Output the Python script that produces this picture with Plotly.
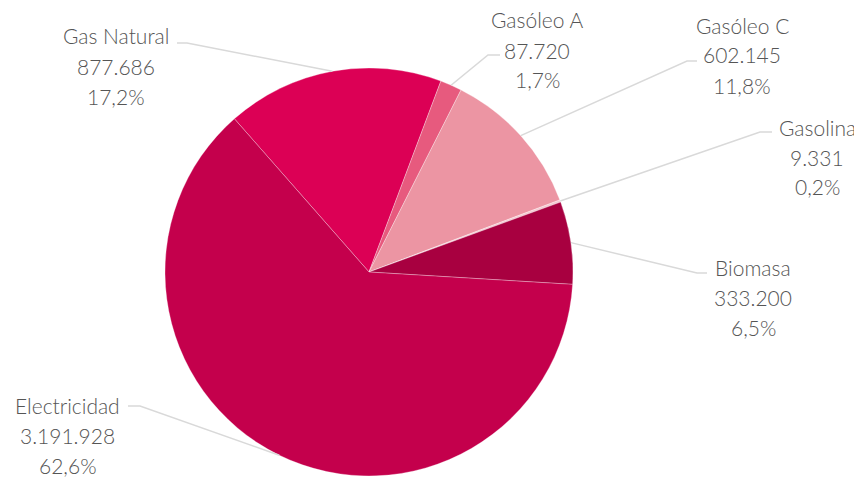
import math
import plotly.graph_objects as go

labels = ["Gas Natural", "Gasóleo A", "Gasóleo C", "Gasolina", "Biomasa", "Electricidad"]
values = [877686, 87720, 602145, 9331, 333200, 3191928]
value_text = ["877.686", "87.720", "602.145", "9.331", "333.200", "3.191.928"]
pct_text = ["17,2%", "1,7%", "11,8%", "0,2%", "6,5%", "62,6%"]
colors = ["#DC0055", "#E75A7E", "#EC95A3", "#F4C9D1", "#A80040", "#C4004C"]

# page body has an 8px margin, so the figure is drawn 8px in from the window corner
OFF = 8
W, H = 862 - OFF, 477 - OFF
CX, CY, R = 369 - OFF, 272 - OFF, 204
ROT = -41.3

# label layout in window pixels: text centre x, first line y, leader start, leader elbow
label_pos = {
    "Gas Natural": (116, 36, (177, 43), (187, 43)),
    "Gasóleo A": (537, 20, (500, 55), (488, 55)),
    "Gasóleo C": (742, 25, (697, 61), (687, 61)),
    "Gasolina": (817, 127, (772, 132), (760, 132)),
    "Biomasa": (753, 267, (707, 273), (697, 273)),
    "Electricidad": (68, 405, (128, 406), (140, 406)),
}
LINE_GAP = 30


def px(x):
    return x / W


def py(y):
    return 1 - y / H


fig = go.Figure(go.Pie(
    labels=labels, values=values, sort=False, direction="clockwise",
    rotation=ROT, marker=dict(colors=colors, line=dict(color="rgba(255,255,255,0.5)", width=0.6)),
    textinfo="none", hoverinfo="label+value+percent", showlegend=False,
    domain=dict(x=[px(CX - R), px(CX + R)], y=[py(CY + R), py(CY - R)]),
))

total = sum(values)
cum = 0
annotations = []
shapes = []
font = dict(family="Lato, Open Sans, sans-serif", size=21, color="#555555", weight=300)
for lab, v, vt, pt in zip(labels, values, value_text, pct_text):
    mid = ROT + (cum + v / 2) / total * 360
    cum += v
    ex = CX + R * math.sin(math.radians(mid))
    ey = CY - R * math.cos(math.radians(mid))
    tx, ty, p0, p1 = label_pos[lab]
    tx, ty = tx - OFF, ty - OFF
    p0 = (p0[0] - OFF, p0[1] - OFF)
    p1 = (p1[0] - OFF, p1[1] - OFF)
    for i, t in enumerate([lab, vt, pt]):
        annotations.append(dict(x=px(tx), y=py(ty + i * LINE_GAP), xref="paper", yref="paper",
                                text=t, showarrow=False, xanchor="center", yanchor="middle", font=font))
    path = f"M {px(p0[0])},{py(p0[1])} L {px(p1[0])},{py(p1[1])} L {px(ex)},{py(ey)}"
    shapes.append(dict(type="path", path=path, xref="paper", yref="paper",
                       line=dict(color="#D9D9D9", width=1.5)))

fig.update_layout(width=W, height=H, margin=dict(l=0, r=0, t=0, b=0),
                  paper_bgcolor="white", plot_bgcolor="white",
                  annotations=annotations, shapes=shapes)
fig.write_html("out.html")
